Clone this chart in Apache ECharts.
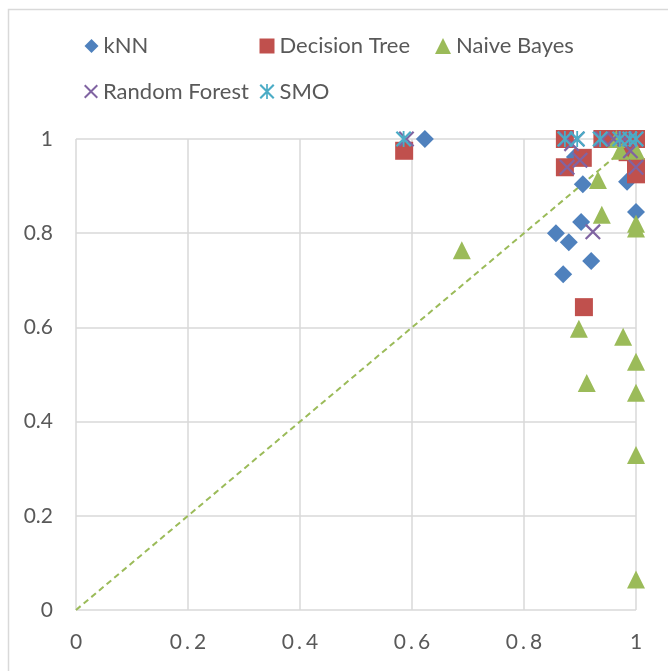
<!DOCTYPE html>
<html>
<head>
<meta charset="utf-8">
<script src="https://cdn.jsdelivr.net/npm/echarts@6/dist/echarts.min.js"></script>
<style>
  html, body { margin: 0; padding: 0; background: #ffffff; }
  #chart { width: 668px; height: 671px; }
</style>
</head>
<body>
<div id="chart"></div>
<script>
// Classifier results: [x, y] pairs, both on a 0..1 scale
const knnPoints = [
  [0.623, 1], [0.891, 0.962], [0.905, 0.904], [0.984, 0.909], [1, 0.845],
  [0.902, 0.824], [0.857, 0.80], [0.88, 0.781], [0.92, 0.741], [0.87, 0.713]
];
const decisionTreePoints = [
  [0.586, 0.975], [0.873, 1], [0.94, 1], [0.96, 1], [0.975, 1], [1, 1],
  [0.873, 0.94], [0.905, 0.96], [0.985, 0.972], [1, 0.94], [1, 0.925],
  [0.907, 0.643]
];
const naiveBayesPoints = [
  [0.689, 0.764], [0.965, 1], [0.972, 0.975], [1, 0.975], [0.932, 0.913],
  [0.939, 0.839], [1, 0.82], [1, 0.81], [0.898, 0.597], [0.977, 0.58],
  [1, 0.527], [0.912, 0.482], [1, 0.461], [1, 0.329], [1, 0.065]
];
const randomForestPoints = [
  [0.59, 1], [0.875, 1], [0.895, 1], [0.94, 1], [0.96, 1], [0.98, 1], [1, 1],
  [0.877, 0.94], [0.9, 0.955], [0.885, 0.99], [0.99, 0.975], [1, 0.94],
  [0.923, 0.803]
];
const smoPoints = [
  [0.585, 1], [0.873, 1], [0.895, 1], [0.936, 1], [0.971, 1], [0.989, 1], [1, 1]
];
// Reference diagonal y = x
const diagonal = [[0, 0], [1, 1]];

const seriesNames = ['kNN', 'Decision Tree', 'Naive Bayes', 'Random Forest', 'SMO'];
const xTickLabels = ['0', '0.2', '0.4', '0.6', '0.8', '1'];
const yTickLabels = ['0', '0.2', '0.4', '0.6', '0.8', '1'];

const colors = {
  knn: '#4f81bd', tree: '#c0504d', bayes: '#9bbb59', forest: '#8064a2', smo: '#4bacc6'
};

// Marker shapes drawn as filled outlines so they scale cleanly
const crossPath = 'path://M0,1.6L1.6,0L16,14.4L14.4,16Z M14.4,0L16,1.6L1.6,16L0,14.4Z';
const starPath = 'path://M0,1.6L1.6,0L16,14.4L14.4,16Z M14.4,0L16,1.6L1.6,16L0,14.4Z M7.1,0L8.9,0L8.9,16L7.1,16Z';

const textColor = '#595959';
const gridColor = '#d9d9d9';
const labelFont = 'Lato';

function legendAt(name, left, top, iconSize) {
  return {
    data: [name],
    left: left,
    top: top,
    orient: 'horizontal',
    itemWidth: iconSize,
    itemHeight: iconSize,
    itemGap: 0,
    padding: 0,
    selectedMode: false,
    textStyle: { color: textColor, fontFamily: labelFont, fontSize: 22 }
  };
}

// Horizontal tick labels: wide spacing around the decimal point
function spacedLabel(text) {
  return text.split('.').map(s => '{d|' + s + '}').join('{p|.}');
}

const chart = echarts.init(document.getElementById('chart'), null, { renderer: 'canvas' });

chart.setOption({
  animation: false,
  backgroundColor: '#ffffff',
  graphic: [{
    type: 'rect',
    left: 6, top: 7,
    shape: { width: 720, height: 720 },
    style: { fill: 'none', stroke: gridColor, lineWidth: 1.5 },
    silent: true
  }],
  legend: [
    legendAt(seriesNames[0], 84.5, 35, 14),
    legendAt(seriesNames[1], 259.5, 35, 15),
    legendAt(seriesNames[2], 435, 35, 16),
    legendAt(seriesNames[3], 84, 80.5, 14),
    legendAt(seriesNames[4], 259.5, 80.5, 15)
  ],
  grid: { left: 76, right: 32, top: 139, bottom: 61, containLabel: false },
  xAxis: {
    type: 'value',
    min: 0, max: 1, interval: 0.2,
    axisLine: { show: false },
    axisTick: { show: false },
    splitLine: { show: true, lineStyle: { color: gridColor, width: 1.5 } },
    axisLabel: {
      margin: 22,
      color: textColor,
      fontFamily: labelFont,
      fontSize: 21,
      formatter: v => spacedLabel(xTickLabels[Math.round(v / 0.2)]),
      rich: {
        d: { color: textColor, fontFamily: labelFont, fontSize: 21 },
        p: { color: textColor, fontFamily: labelFont, fontSize: 21, padding: [0, 4, 0, 3] }
      }
    }
  },
  yAxis: {
    type: 'value',
    min: 0, max: 1, interval: 0.2,
    axisLine: { show: false },
    axisTick: { show: false },
    splitLine: { show: true, lineStyle: { color: gridColor, width: 1.5 } },
    axisLabel: {
      margin: 23,
      color: textColor,
      fontFamily: labelFont,
      fontSize: 21,
      formatter: v => yTickLabels[Math.round(v / 0.2)]
    }
  },
  series: [
    {
      name: 'diagonal',
      type: 'line',
      data: diagonal,
      symbol: 'none',
      silent: true,
      z: 1,
      lineStyle: { color: colors.bayes, width: 2, type: [6, 4] }
    },
    {
      name: seriesNames[0], type: 'scatter', data: knnPoints,
      symbol: 'diamond', symbolSize: 18, z: 2,
      itemStyle: { color: colors.knn, opacity: 1 }
    },
    {
      name: seriesNames[1], type: 'scatter', data: decisionTreePoints,
      symbol: 'rect', symbolSize: 18, z: 3,
      itemStyle: { color: colors.tree, opacity: 1 }
    },
    {
      name: seriesNames[2], type: 'scatter', data: naiveBayesPoints,
      symbol: 'triangle', symbolSize: 18, z: 4,
      itemStyle: { color: colors.bayes, opacity: 1 }
    },
    {
      name: seriesNames[3], type: 'scatter', data: randomForestPoints,
      symbol: crossPath, symbolSize: 16, z: 5,
      itemStyle: { color: colors.forest, opacity: 1 }
    },
    {
      name: seriesNames[4], type: 'scatter', data: smoPoints,
      symbol: starPath, symbolSize: 16, z: 6,
      itemStyle: { color: colors.smo, opacity: 1 }
    }
  ]
});
</script>
</body>
</html>
